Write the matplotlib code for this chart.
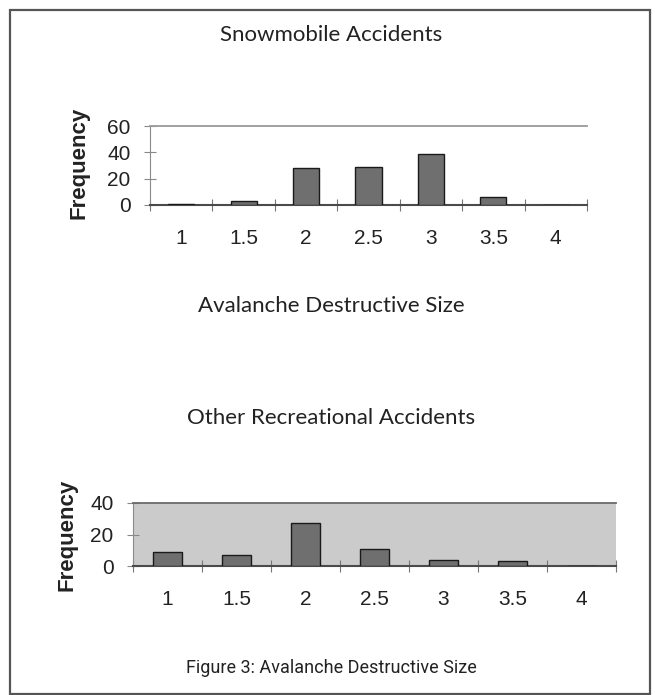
import numpy as np
import matplotlib
matplotlib.use("Agg")
import matplotlib.pyplot as plt
from matplotlib.patches import Rectangle

sizes = ["1", "1.5", "2", "2.5", "3", "3.5", "4"]
snowmobile = [1, 3, 28, 29, 39, 6, 0]
other_rec = [9, 7, 27, 11, 4, 3, 0]

W, H = 655, 695
fig = plt.figure(figsize=(W / 100, H / 100), dpi=100)
fig.patch.set_facecolor("white")

def fx(px):
    return px / W

def fy(py):
    return 1 - py / H

arial = ["Liberation Sans", "DejaVu Sans"]
title_font = ["Lato", "DejaVu Sans"]
bar_color = "#6f6f6f"
line_color = "#4a4a4a"


def draw_panel(box, values, ymax, ystep, face, top_color):
    left, top, right, bottom = box
    ax = fig.add_axes([fx(left), fy(bottom), fx(right) - fx(left), fy(top) - fy(bottom)])
    x = np.arange(len(values))
    ax.bar(x, values, width=0.42, color=bar_color, edgecolor="#1a1a1a", linewidth=1.0, zorder=3)
    ax.set_xlim(-0.5, len(values) - 0.5)
    ax.set_ylim(0, ymax)
    ax.set_facecolor(face)
    ax.spines["right"].set_visible(False)
    ax.spines["top"].set_color(top_color)
    ax.spines["top"].set_linewidth(1.3)
    ax.spines["left"].set_color("#8a8a8a")
    ax.spines["left"].set_linewidth(0.8)
    ax.spines["bottom"].set_color(line_color)
    ax.spines["bottom"].set_linewidth(1.5)
    ax.set_xticks(np.arange(-0.5, len(values)), labels=[])
    ax.set_xticks(x, labels=sizes, minor=True)
    ax.tick_params(axis="x", which="major", direction="inout", length=9, width=0.8, color="#777777")
    ax.tick_params(axis="x", which="minor", length=0, pad=17)
    ax.set_yticks(np.arange(0, ymax + 1, ystep))
    ax.tick_params(axis="y", direction="inout", length=8, width=0.8, color="#888888", pad=10)
    for lab in ax.get_xticklabels(minor=True) + ax.get_yticklabels():
        lab.set_fontfamily(arial)
        lab.set_fontsize(15)
        lab.set_color("#222222")
    return ax


# upper panel: snowmobile accidents
ax1 = draw_panel((150, 126, 587, 205), snowmobile, 60, 20, "white", "#9a9a9a")
fig.text(fx(79), fy(163), "Frequency", rotation=90, ha="center", va="center",
         fontsize=16, fontweight="bold", family=arial, color="#222222")

# lower panel: other recreational accidents
ax2 = draw_panel((133, 503, 616, 566), other_rec, 40, 20, "#cbcbcb", "#6a6a6a")
fig.text(fx(67), fy(535), "Frequency", rotation=90, ha="center", va="center",
         fontsize=16, fontweight="bold", family=arial, color="#222222")

fig.text(fx(331), fy(35), "Snowmobile Accidents", ha="center", va="center",
         fontsize=16, family=title_font, color="#222222")
fig.text(fx(331), fy(306), "Avalanche Destructive Size", ha="center", va="center",
         fontsize=16, family=title_font, color="#222222")
fig.text(fx(331), fy(418), "Other Recreational Accidents", ha="center", va="center",
         fontsize=16, family=title_font, color="#222222")
fig.text(fx(331), fy(668), "Figure 3: Avalanche Destructive Size", ha="center", va="center",
         fontsize=13, family=["Liberation Sans Narrow", "Roboto", "DejaVu Sans"], color="#222222")

# outer frame
fig.add_artist(Rectangle((fx(10), fy(694)), fx(650) - fx(10), fy(10) - fy(694),
                         transform=fig.transFigure, fill=False,
                         edgecolor="#555555", linewidth=1.6))

fig.savefig("out.png", dpi=100)
